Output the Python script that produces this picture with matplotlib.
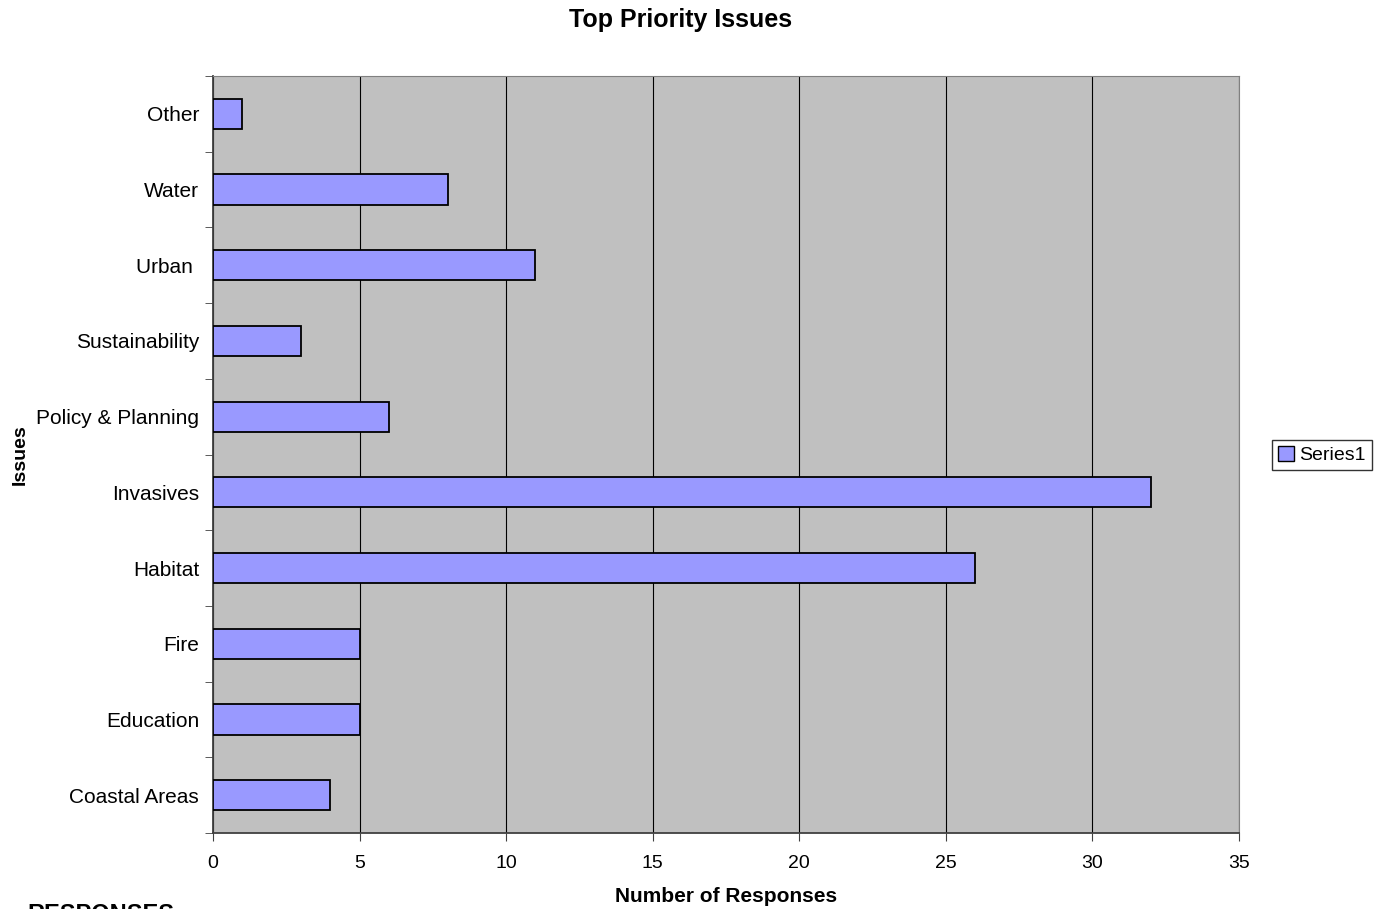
import numpy as np
import matplotlib.pyplot as plt
from matplotlib.patches import Patch

plt.rcParams['font.family'] = ['Liberation Sans', 'DejaVu Sans']

issues = ['Coastal Areas', 'Education', 'Fire', 'Habitat', 'Invasives',
          'Policy & Planning', 'Sustainability', 'Urban ', 'Water', 'Other']
responses = [4, 5, 5, 26, 32, 6, 3, 11, 8, 1]

fig = plt.figure(figsize=(13.79, 9.09), dpi=100)
ax = fig.add_axes([213/1379, 1-833/909, (1239-213)/1379, (833-76)/909])
ax.set_facecolor('#c0c0c0')

y = np.arange(len(issues))
ax.barh(y, responses, height=0.4, color='#9999ff', edgecolor='black',
        linewidth=1.3, zorder=3)

ax.set_xlim(0, 35)
ax.set_ylim(-0.5, len(issues) - 0.5)
ax.set_xticks(range(0, 36, 5))
ax.xaxis.grid(True, color='black', linewidth=0.8, zorder=0)
ax.set_yticks(y)
ax.set_yticklabels(issues, fontsize=15)
ax.set_yticks(np.arange(-0.5, len(issues), 1), minor=True)
ax.tick_params(axis='y', which='major', length=0, pad=10)
ax.tick_params(axis='y', which='minor', length=6, color='#404040')
ax.tick_params(axis='x', labelsize=14, length=6, color='#404040', pad=10)

for s in ['top', 'right']:
    ax.spines[s].set_color('#808080')
for s in ['left', 'bottom']:
    ax.spines[s].set_color('#404040')
    ax.spines[s].set_linewidth(1.3)

ax.set_xlabel('Number of Responses', fontsize=15, fontweight='bold', labelpad=11)
ax.set_ylabel('Issues', fontsize=14, fontweight='bold', labelpad=5)
fig.text(681/1379, 1-20/909, 'Top Priority Issues', fontsize=18,
         fontweight='bold', ha='center', va='center')
fig.text(27/1379, 1-903/909, 'RESPONSES', fontsize=17, fontweight='bold',
         ha='left', va='top')

leg = fig.legend(handles=[Patch(facecolor='#9999ff', edgecolor='black',
                                label='Series1')],
                 loc='center', bbox_to_anchor=(1322/1379, 1-455/909),
                 fontsize=14, frameon=True, fancybox=False, edgecolor='black',
                 handlelength=0.8, handleheight=0.8, handletextpad=0.3,
                 borderpad=0.3, borderaxespad=0)
leg.get_frame().set_linewidth(1.0)

fig.savefig('out.png', dpi=100)
